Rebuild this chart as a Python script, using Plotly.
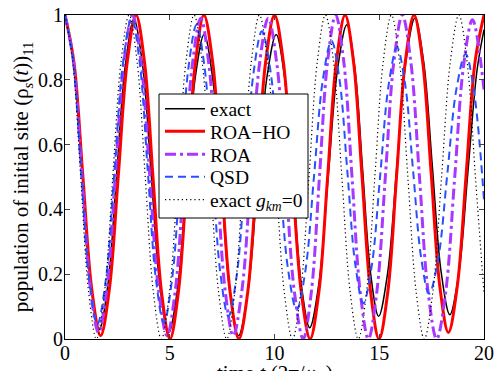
import plotly.graph_objects as go

# ---- data ----
t_exact = [0, 0.41, 0.82, 1.23, 1.64, 2.05, 2.465, 2.88, 3.29, 3.705, 4.12, 4.535, 4.95, 5.37, 5.795,
           6.215, 6.64, 7.05, 7.46, 7.87, 8.28, 8.73, 9.18, 9.63, 10.08, 10.48, 10.88, 11.28, 11.68,
           12.12, 12.565, 13.01, 13.45, 13.83, 14.21, 14.59, 14.97, 15.40, 15.835, 16.27, 16.70,
           17.12, 17.535, 17.95, 18.37, 18.80, 19.235, 19.67, 20.0]
p_exact = [1.0, 0.858, 0.515, 0.172, 0.03, 0.169, 0.508, 0.846, 0.985, 0.844, 0.503, 0.161, 0.02, 0.154, 0.48,
           0.806, 0.94, 0.804, 0.475, 0.146, 0.01, 0.146, 0.475, 0.804, 0.94, 0.808, 0.488, 0.167, 0.035,
           0.172, 0.503, 0.833, 0.97, 0.839, 0.52, 0.201, 0.07, 0.204, 0.53, 0.856, 0.99,
           0.856, 0.533, 0.209, 0.075, 0.204, 0.518, 0.831, 0.955]

t_roaho = [0, 0.425, 0.85, 1.275, 1.70, 2.12, 2.545, 2.97, 3.39, 3.795, 4.20, 4.605, 5.01, 5.415, 5.82,
           6.225, 6.63, 7.05, 7.465, 7.88, 8.30, 8.725, 9.15, 9.575, 10.0, 10.425, 10.85, 11.275, 11.70,
           12.12, 12.535, 12.95, 13.37, 13.775, 14.18, 14.585, 14.99, 15.41, 15.825, 16.24, 16.66,
           17.07, 17.48, 17.89, 18.30, 18.725, 19.15, 19.575, 20.0]
p_roaho = [1.0, 0.855, 0.505, 0.155, 0.01, 0.155, 0.505, 0.855, 1.0, 0.854, 0.5, 0.146, 0.0, 0.146, 0.5,
           0.854, 1.0, 0.854, 0.5, 0.146, 0.0, 0.146, 0.5, 0.854, 1.0, 0.854, 0.5, 0.146, 0.0,
           0.146, 0.5, 0.854, 1.0, 0.854, 0.5, 0.146, 0.0, 0.146, 0.5, 0.854, 1.0,
           0.857, 0.51, 0.163, 0.02, 0.163, 0.51, 0.857, 1.0]

t_roa = [0, 0.40, 0.80, 1.20, 1.60, 2.005, 2.41, 2.815, 3.22, 3.63, 4.045, 4.46, 4.87, 5.27, 5.675,
         6.08, 6.48, 6.87, 7.255, 7.64, 8.03, 8.45, 8.865, 9.28, 9.70, 10.12, 10.535, 10.95, 11.37,
         11.76, 12.145, 12.53, 12.92, 13.31, 13.70, 14.09, 14.48, 14.885, 15.29, 15.695, 16.10,
         16.51, 16.92, 17.33, 17.74, 18.17, 18.595, 19.02, 19.45, 20.0]
p_roa = [1.0, 0.857, 0.51, 0.163, 0.02, 0.163, 0.51, 0.857, 1.0, 0.855, 0.505, 0.155, 0.01, 0.153, 0.50,
         0.847, 0.99, 0.847, 0.5, 0.153, 0.01, 0.153, 0.5, 0.847, 0.99, 0.845, 0.495, 0.145, 0.0,
         0.146, 0.5, 0.854, 1.0, 0.854, 0.5, 0.146, 0.0, 0.146, 0.5, 0.854, 1.0,
         0.854, 0.5, 0.146, 0.0, 0.144, 0.493, 0.841, 0.985, 0.77]

t_qsd = [0, 0.385, 0.77, 1.155, 1.54, 1.95, 2.36, 2.77, 3.18, 3.565, 3.95, 4.335, 4.72, 5.11, 5.50,
         5.89, 6.28, 6.66, 7.04, 7.42, 7.80, 8.20, 8.60, 9.00, 9.40, 9.815, 10.23, 10.645, 11.06,
         11.475, 11.89, 12.305, 12.72, 13.10, 13.48, 13.86, 14.24, 14.64, 15.045, 15.45, 15.85,
         16.23, 16.615, 17.00, 17.38, 17.815, 18.25, 18.685, 19.12, 19.50, 20.0]
p_qsd = [1.0, 0.861, 0.523, 0.184, 0.045, 0.183, 0.518, 0.852, 0.99, 0.853, 0.52, 0.187, 0.05, 0.184, 0.51,
         0.836, 0.97, 0.839, 0.52, 0.201, 0.07, 0.198, 0.51, 0.822, 0.95, 0.824, 0.52, 0.216, 0.09,
         0.211, 0.505, 0.799, 0.92, 0.802, 0.515, 0.228, 0.11, 0.225, 0.505, 0.785, 0.90,
         0.789, 0.52, 0.251, 0.14, 0.248, 0.51, 0.772, 0.88, 0.775, 0.43]

t_free = [0, 0.375, 0.75, 1.125, 1.50, 1.89, 2.28, 2.67, 3.06, 3.445, 3.83, 4.215, 4.60, 4.99, 5.38,
          5.77, 6.16, 6.55, 6.94, 7.33, 7.72, 8.11, 8.50, 8.89, 9.28, 9.675, 10.07, 10.465, 10.86,
          11.25, 11.645, 12.04, 12.43, 12.82, 13.215, 13.61, 14.0, 14.395, 14.79, 15.185, 15.58,
          15.97, 16.365, 16.76, 17.15, 17.56, 17.975, 18.39, 18.80, 19.195, 19.59, 20.0]
p_free = [1.0, 0.854, 0.5, 0.146, 0.0, 0.146, 0.5, 0.854, 1.0, 0.854, 0.5, 0.146, 0.0, 0.146, 0.5,
          0.854, 1.0, 0.854, 0.5, 0.146, 0.0, 0.146, 0.5, 0.854, 1.0, 0.854, 0.5, 0.146, 0.0,
          0.146, 0.5, 0.854, 1.0, 0.854, 0.5, 0.146, 0.0, 0.146, 0.5, 0.854, 1.0,
          0.854, 0.5, 0.146, 0.0, 0.146, 0.5, 0.854, 1.0, 0.854, 0.5, 0.14]

x_ticks = [0, 5, 10, 15, 20]
y_ticks = [0, 0.2, 0.4, 0.6, 0.8, 1]
y_ticklabels = ["0", "0.2", "0.4", "0.6", "0.8", "1"]

FONT = "Liberation Serif, Times New Roman, serif"

# plot-area pixel geometry (498 x 371 canvas)
L, R, T, B = 65, 14, 15, 32
PW, PH = 498 - L - R, 371 - T - B


def px_x(px):
    return (px - L) / PW


def px_y(py):
    return (371 - B - py) / PH


fig = go.Figure()
series = [
    ("exact", t_exact, p_exact, dict(color="black", width=1.5, dash="solid")),
    ("ROA\u2212HO", t_roaho, p_roaho, dict(color="#ff0000", width=3, dash="solid")),
    ("ROA", t_roa, p_roa, dict(color="rgb(170,55,255)", width=3, dash="11px,4px,3px,4px")),
    ("QSD", t_qsd, p_qsd, dict(color="rgb(40,80,255)", width=2, dash="8px,5px")),
    ("exact <i>g</i><sub><i>km</i></sub>=0", t_free, p_free, dict(color="black", width=1.2, dash="1.2px,3px")),
]
legend_rows_px = [109, 131.5, 154.5, 177, 200]
legend_names = ["legend", "legend2", "legend3", "legend4", "legend5"]
for (name, tx, py, ln), lg in zip(series, legend_names):
    fig.add_trace(go.Scatter(x=tx, y=py, mode="lines", name=name, legend=lg,
                             line=dict(shape="spline", smoothing=1.0, **ln)))

legend_layout = {}
for lg, yc in zip(legend_names, legend_rows_px):
    legend_layout[lg] = dict(x=px_x(160), y=px_y(yc), xanchor="left", yanchor="middle",
                             bgcolor="rgba(0,0,0,0)", borderwidth=0, itemwidth=40,
                             font=dict(family=FONT, size=19.5, color="black"))

fig.update_layout(
    width=498, height=371,
    margin=dict(l=L, r=R, t=T, b=B, autoexpand=False),
    paper_bgcolor="white", plot_bgcolor="white",
    font=dict(family=FONT, size=20, color="black"),
    showlegend=True,
    shapes=[dict(type="rect", xref="paper", yref="paper",
                 x0=px_x(159), x1=px_x(308), y0=px_y(218), y1=px_y(94),
                 line=dict(color="black", width=1), fillcolor="white", layer="above")],
    annotations=[dict(text="time <i>t</i> (2\u03c0/\u03c9<sub>0</sub>)", xref="paper", yref="paper",
                      x=0.5, y=px_y(359), xanchor="center", yanchor="top", showarrow=False,
                      font=dict(family=FONT, size=21, color="black"))],
    **legend_layout,
)
fig.update_xaxes(range=[0, 20], tickvals=x_ticks, ticks="inside", ticklen=5,
                 showline=True, linecolor="black", linewidth=1, mirror="ticks",
                 showgrid=False, zeroline=False, automargin=False,
                 tickfont=dict(family=FONT, size=20), ticklabelstandoff=-4)
fig.update_yaxes(range=[0, 1], tickvals=y_ticks, ticktext=y_ticklabels, ticks="inside", ticklen=5,
                 showline=True, linecolor="black", linewidth=1, mirror="ticks",
                 showgrid=False, zeroline=False, automargin=False,
                 tickfont=dict(family=FONT, size=20), ticklabelstandoff=-3,
                 title=dict(text="population of initial site (\u03c1<sub><i>s</i></sub>(<i>t</i>))<sub>11</sub>",
                            font=dict(family=FONT, size=21), standoff=3))

fig.write_html("out.html", config={"displayModeBar": False},
               post_script="document.body.style.margin='0';document.body.style.padding='0';"
                           "document.body.style.overflow='hidden';")
